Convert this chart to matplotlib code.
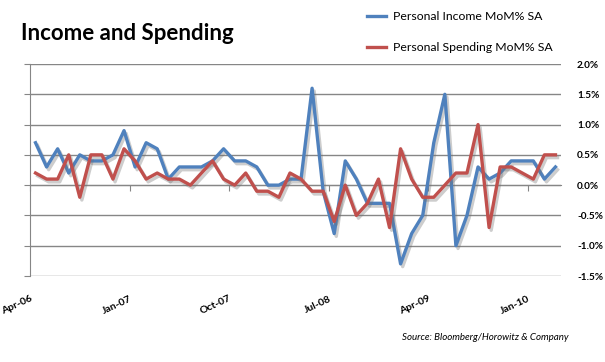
import numpy as np
import matplotlib.pyplot as plt
import matplotlib.patheffects as pe
from matplotlib.lines import Line2D

plt.rcParams['font.family'] = ['Lato', 'DejaVu Sans']

# monthly values, Apr-06 .. Mar-10
income = [0.7, 0.3, 0.6, 0.2, 0.5, 0.4, 0.4, 0.5, 0.9, 0.3, 0.7, 0.6,
          0.1, 0.3, 0.3, 0.3, 0.4, 0.6, 0.4, 0.4, 0.3, 0.0, 0.0, 0.1,
          0.1, 1.6, -0.1, -0.8, 0.4, 0.1, -0.3, -0.3, -0.3, -1.3, -0.8, -0.5,
          0.7, 1.5, -1.0, -0.5, 0.3, 0.1, 0.2, 0.4, 0.4, 0.4, 0.1, 0.3]
spending = [0.2, 0.1, 0.1, 0.5, -0.2, 0.5, 0.5, 0.1, 0.6, 0.4, 0.1, 0.2,
            0.1, 0.1, 0.0, 0.2, 0.4, 0.1, 0.0, 0.2, -0.1, -0.1, -0.2, 0.2,
            0.1, -0.1, -0.1, -0.6, 0.0, -0.5, -0.3, 0.1, -0.7, 0.6, 0.1, -0.2,
            -0.2, 0.0, 0.2, 0.2, 1.0, -0.7, 0.3, 0.3, 0.2, 0.1, 0.5, 0.5]
tick_months = [0, 9, 18, 27, 36, 45]
tick_labels = ['Apr-06', 'Jan-07', 'Oct-07', 'Jul-08', 'Apr-09', 'Jan-10']
y_ticks = [-1.5, -1.0, -0.5, 0.0, 0.5, 1.0, 1.5, 2.0]

blue = '#4F81BD'
red = '#C0504D'
grid_c = '#868686'

fig = plt.figure(figsize=(6.05, 3.62), dpi=100)
ax = fig.add_axes([30/605, 86/362, 531/605, 212/362])

x = np.arange(len(income)) + 0.5
shadow = [pe.SimpleLineShadow(offset=(1.5, -2), shadow_color='#707070', alpha=0.35), pe.Normal()]
ax.plot(x, income, color=blue, lw=2.4, path_effects=shadow, zorder=3)
ax.plot(x, spending, color=red, lw=2.4, path_effects=shadow, zorder=4)

ax.set_xlim(0, len(income))
ax.set_ylim(-1.5, 2.0)
ax.set_yticks(y_ticks)
ax.yaxis.set_major_formatter(lambda v, p: f'{v:.1f}%')
ax.tick_params(axis='y', left=True, right=False, labelleft=False, labelright=True,
               length=4, color=grid_c, pad=7.5, labelsize=7.2)
for lbl in ax.get_yticklabels():
    lbl.set_fontweight('bold')
ax.grid(axis='y', color=grid_c, lw=1)
ax.set_axisbelow(True)

for s in ['top', 'right']:
    ax.spines[s].set_visible(False)
ax.spines['left'].set_color(grid_c)
ax.spines['bottom'].set_position(('data', 0))
ax.spines['bottom'].set_color(grid_c)
ax.set_xticks(tick_months)
ax.tick_params(axis='x', length=4, color=grid_c, labelbottom=False)

sec = ax.secondary_xaxis('bottom')
sec.set_xticks(tick_months, tick_labels)
sec.tick_params(length=0, pad=13, labelsize=7.5)
sec.spines['bottom'].set_visible(False)
for lbl in sec.get_xticklabels():
    lbl.set_rotation(25)
    lbl.set_ha('right')
    lbl.set_va('top')
    lbl.set_rotation_mode('anchor')
    lbl.set_fontweight('bold')

fig.text(21/605, 1 - 40/362, 'Income and Spending', fontsize=16, fontweight='bold',
         va='baseline', ha='left')

handles = [Line2D([], [], color=blue, lw=2.4), Line2D([], [], color=red, lw=2.4)]
fig.legend(handles, ['Personal Income MoM% SA', 'Personal Spending MoM% SA'],
           loc='upper left', bbox_to_anchor=(367/605, 1 - 11/362), frameon=False,
           fontsize=8.8, borderpad=0, borderaxespad=0, handlelength=1.55,
           handletextpad=0.55, labelspacing=1.65)

fig.text(568/605, 1 - 338/362, 'Source: Bloomberg/Horowitz & Company', fontsize=7,
         style='italic', ha='right', va='center')

fig.savefig('out.png', dpi=100)
